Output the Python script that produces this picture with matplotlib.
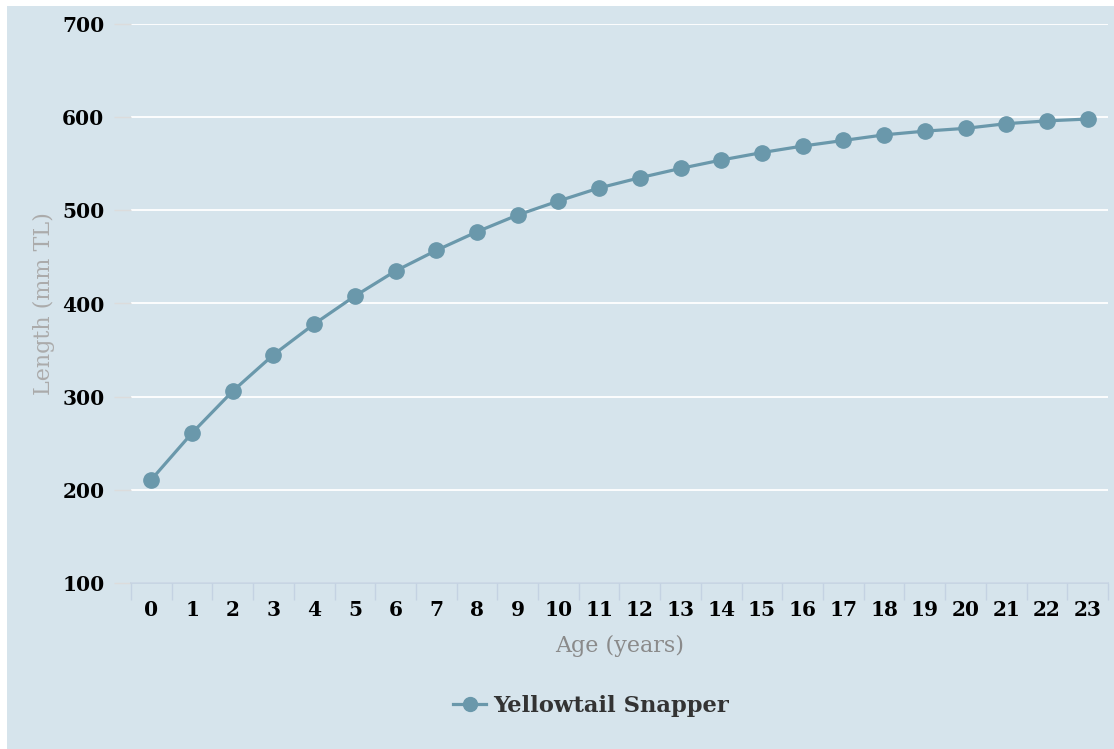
import numpy as np
import matplotlib.pyplot as plt
from matplotlib.patches import Rectangle
from matplotlib.lines import Line2D

# Data
ages = list(range(24))
lengths = [211, 261, 306, 345, 378, 408, 435, 457, 477, 495, 510, 524,
           535, 545, 554, 562, 569, 575, 581, 585, 588, 593, 596, 598]
y_ticks = [100, 200, 300, 400, 500, 600, 700]
series_name = "Yellowtail Snapper"

bg = "#d6e4ec"
line_color = "#6a98ab"

fig = plt.figure(figsize=(11.14, 7.49), dpi=100)
fig.patch.set_facecolor("white")
# light panel behind the whole chart
fig.patches.append(Rectangle((7 / 1114, 0.0), 1 - 7 / 1114, 1 - 6 / 749,
                             transform=fig.transFigure, facecolor=bg,
                             edgecolor="none", zorder=-10))

ax = fig.add_axes([131 / 1114, 1 - 583 / 749, (1108 - 131) / 1114, (583 - 24) / 749])
ax.set_facecolor("none")
ax.set_zorder(2)

ax.plot(ages, lengths, color=line_color, lw=2.3, marker="o", ms=11,
        clip_on=False, zorder=3)

ax.set_xlim(-0.5, 23.5)
ax.set_ylim(100, 700)

# y axis
ax.set_yticks(y_ticks)
ax.set_yticklabels([str(v) for v in y_ticks], fontfamily="DejaVu Serif",
                   fontweight="bold", fontsize=14.5)
ax.tick_params(axis="y", length=12.2, width=1, color="#dcdcdc", pad=7)
ax.grid(axis="y", color="white", lw=1.3)
ax.set_axisbelow(True)

# x axis: labels at centres, tick marks at band edges
ax.set_xticks(ages)
ax.set_xticklabels([str(a) for a in ages], fontfamily="DejaVu Serif",
                   fontweight="bold", fontsize=14.5)
ax.set_xticks(np.arange(-0.5, 24, 1), minor=True)
ax.tick_params(axis="x", which="major", length=0, pad=12)
ax.tick_params(axis="x", which="minor", length=12.2, width=1, color="#c4d2e2")

for s in ["left", "top", "right"]:
    ax.spines[s].set_visible(False)
ax.spines["bottom"].set_color("#c4d2e2")
ax.spines["bottom"].set_linewidth(1.2)

ax.set_xlabel("Age (years)", fontfamily="DejaVu Serif", fontsize=16,
              color="#8a8a8a", labelpad=11)
ax.set_ylabel("Length (mm TL)", fontfamily="DejaVu Serif", fontsize=16,
              color="#ababab", labelpad=5)

handle = Line2D([], [], color=line_color, lw=2.3, marker="o", ms=10)
fig.legend([handle], [series_name], loc="center", bbox_to_anchor=(591 / 1114, 1 - 706 / 749),
           frameon=False, handlelength=1.45, handletextpad=0.3,
           prop={"family": "DejaVu Serif", "weight": "bold", "size": 16.3},
           labelcolor="#333333")

fig.savefig("out.png", dpi=100, facecolor=fig.get_facecolor())
